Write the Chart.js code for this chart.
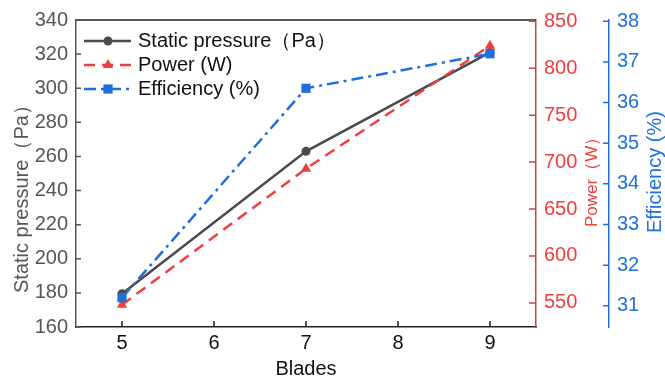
<!DOCTYPE html>
<html>
<head>
<meta charset="utf-8">
<script src="https://cdn.jsdelivr.net/npm/chart.js@4.4.1/dist/chart.umd.min.js"></script>
<style>
    html, body { margin: 0; padding: 0; background: #fff; }
    #wrap { width: 665px; height: 381px; }
</style>
</head>
<body>
<div id="wrap"><canvas id="chart" width="665" height="381"></canvas></div>
<script>
// dados
var blades = [5, 7, 9];
var staticPressure = [179.5, 263, 321];
var power = [548, 693, 824];
var efficiency = [31.2, 36.35, 37.2];

var bladeTicks = [5, 6, 7, 8, 9];
var pressureTicks = [160, 180, 200, 220, 240, 260, 280, 300, 320, 340];
var powerTicks = [550, 600, 650, 700, 750, 800, 850];
var efficiencyTicks = [31, 32, 33, 34, 35, 36, 37, 38];

var seriesNames = ['Static pressure（Pa）', 'Power (W)', 'Efficiency (%)'];

var FONT = '"Liberation Sans", Arial, sans-serif';
var GRAY = '#4a4a4a';
var RED = '#ef3e3e';
var BLUE = '#1f6fdc';

function points(ys) {
    return blades.map(function (b, i) { return { x: b, y: ys[i] }; });
}

function fixTicks(values) {
    return function (scale) {
        scale.ticks = values.map(function (v) { return { value: v }; });
    };
}

// marcas dos eixos (para dentro), moldura, títulos e legenda
var decor = {
    id: 'decor',
    afterDraw: function (chart) {
        var ctx = chart.ctx;
        var area = chart.chartArea;
        var s = chart.scales;

        ctx.save();
        ctx.lineWidth = 1.5;

        ctx.strokeStyle = '#222';
        ctx.beginPath();
        ctx.moveTo(area.left, area.top);
        ctx.lineTo(area.right, area.top);
        bladeTicks.forEach(function (v) {
            var px = s.x.getPixelForValue(v);
            ctx.moveTo(px, area.bottom);
            ctx.lineTo(px, area.bottom - 6);
        });
        ctx.stroke();

        ctx.strokeStyle = '#555';
        ctx.beginPath();
        pressureTicks.forEach(function (v) {
            var py = s.y.getPixelForValue(v);
            ctx.moveTo(area.left, py);
            ctx.lineTo(area.left + 5, py);
        });
        ctx.stroke();

        ctx.strokeStyle = '#c94646';
        ctx.beginPath();
        powerTicks.forEach(function (v) {
            var py = s.y1.getPixelForValue(v);
            ctx.moveTo(s.y1.left, py);
            ctx.lineTo(s.y1.left - 7, py);
        });
        ctx.stroke();

        ctx.strokeStyle = BLUE;
        ctx.beginPath();
        efficiencyTicks.forEach(function (v) {
            var py = s.y2.getPixelForValue(v);
            ctx.moveTo(s.y2.left, py);
            ctx.lineTo(s.y2.left - 6, py);
        });
        ctx.stroke();

        // títulos verticais
        function vTitle(text, x, y, color, size) {
            ctx.save();
            ctx.translate(x, y);
            ctx.rotate(-Math.PI / 2);
            ctx.font = size + 'px ' + FONT;
            ctx.fillStyle = color;
            ctx.textAlign = 'left';
            ctx.textBaseline = 'middle';
            ctx.fillText(text, 0, 0);
            ctx.restore();
        }
        vTitle('Static pressure（Pa）', 22, 293, '#555', 20);
        vTitle('Power（W）', 592, 227, RED, 17);
        vTitle('Efficiency (%)', 655, 233, BLUE, 20);

        // legenda
        chart.data.datasets.forEach(function (ds, i) {
            var y = 41 + i * 24;
            ctx.save();
            ctx.strokeStyle = ds.borderColor;
            ctx.lineWidth = ds.borderWidth;
            ctx.setLineDash(ds.borderDash || []);
            ctx.beginPath();
            ctx.moveTo(84, y);
            ctx.lineTo(131, y);
            ctx.stroke();
            ctx.setLineDash([]);
            ctx.fillStyle = ds.pointBackgroundColor;
            ctx.strokeStyle = ds.pointBackgroundColor;
            Chart.helpers.drawPoint(ctx, {
                pointStyle: ds.pointStyle,
                radius: ds.pointRadius,
                rotation: 0,
                borderWidth: 0
            }, 108, y);
            ctx.fillStyle = '#111';
            ctx.font = '20px ' + FONT;
            ctx.textAlign = 'left';
            ctx.textBaseline = 'middle';
            ctx.fillText(seriesNames[i], 138, y);
            ctx.restore();
        });

        ctx.restore();
    }
};

var ctx = document.getElementById('chart');
var chart = new Chart(ctx, {
    type: 'line',
    data: {
        datasets: [{
            label: seriesNames[0],
            data: points(staticPressure),
            yAxisID: 'y',
            borderColor: GRAY,
            borderWidth: 2.5,
            pointStyle: 'circle',
            pointRadius: 4.5,
            pointBackgroundColor: GRAY,
            pointBorderWidth: 0,
            order: 3
        }, {
            label: seriesNames[1],
            data: points(power),
            yAxisID: 'y1',
            borderColor: RED,
            borderWidth: 2.5,
            borderDash: [11, 7],
            pointStyle: 'triangle',
            pointRadius: 6,
            pointBackgroundColor: RED,
            pointBorderWidth: 0,
            order: 2
        }, {
            label: seriesNames[2],
            data: points(efficiency),
            yAxisID: 'y2',
            borderColor: BLUE,
            borderWidth: 2.5,
            borderDash: [12, 5, 3, 5],
            pointStyle: 'rect',
            pointRadius: 6.5,
            pointBackgroundColor: BLUE,
            pointBorderWidth: 0,
            order: 1
        }]
    },
    options: {
        responsive: false,
        animation: false,
        devicePixelRatio: 1,
        layout: { padding: { top: 17, left: 0, right: 0, bottom: 0 } },
        plugins: {
            legend: { display: false },
            tooltip: { enabled: false }
        },
        elements: { line: { tension: 0 } },
        scales: {
            x: {
                type: 'linear',
                min: 4.5,
                max: 9.5,
                afterBuildTicks: fixTicks(bladeTicks),
                afterFit: function (scale) { scale.height = 54; },
                grid: { display: false, drawTicks: false },
                border: { display: true, color: '#222', width: 1.5 },
                ticks: { color: '#111', font: { size: 20, family: FONT }, padding: 4 },
                title: { display: true, text: 'Blades', color: '#111', font: { size: 20, family: FONT }, padding: 0 }
            },
            y: {
                position: 'left',
                min: 160,
                max: 340,
                afterBuildTicks: fixTicks(pressureTicks),
                afterFit: function (scale) { scale.width = 76; },
                grid: { display: false, drawTicks: false },
                border: { display: true, color: '#555', width: 1.5 },
                ticks: { color: '#555', font: { size: 20, family: FONT }, padding: 8 }
            },
            y1: {
                position: 'right',
                min: 524.3,
                max: 851.4,
                afterBuildTicks: fixTicks(powerTicks),
                afterFit: function (scale) { scale.width = 73; },
                grid: { display: false, drawTicks: false },
                border: { display: true, color: '#c94646', width: 1.5 },
                ticks: { color: RED, font: { size: 20, family: FONT }, padding: 8 }
            },
            y2: {
                position: 'right',
                min: 30.48,
                max: 38.03,
                afterBuildTicks: fixTicks(efficiencyTicks),
                afterFit: function (scale) { scale.width = 56; },
                grid: { display: false, drawTicks: false },
                border: { display: true, color: BLUE, width: 1.5 },
                ticks: { color: BLUE, font: { size: 20, family: FONT }, padding: 8 }
            }
        }
    },
    plugins: [decor]
});
</script>
</body>
</html>
